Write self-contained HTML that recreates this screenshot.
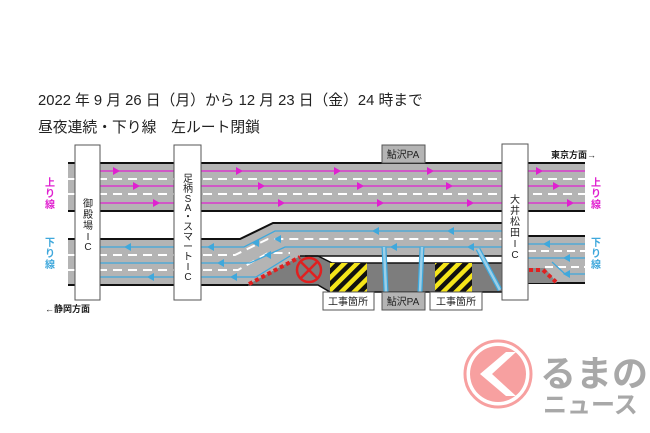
<!DOCTYPE html>
<html><head><meta charset="utf-8"><style>
html,body{margin:0;padding:0;background:#fff;width:650px;height:433px;overflow:hidden}
svg{display:block}
text{font-family:"Liberation Sans","Noto Sans CJK JP",sans-serif}
</style></head><body>
<svg width="650" height="433" viewBox="0 0 650 433" xmlns="http://www.w3.org/2000/svg">
<defs>
<pattern id="hz" patternUnits="userSpaceOnUse" width="9" height="9" patternTransform="rotate(45)">
<rect width="9" height="9" fill="#f5e51a"/><rect width="4.5" height="9" fill="#111"/>
</pattern>
</defs>
<text x="38" y="105" font-size="14.8" fill="#222">2022 年 9 月 26 日（月）から 12 月 23 日（金）24 時まで</text>
<text x="38" y="132" font-size="14.8" fill="#222">昼夜連続・下り線　左ルート閉鎖</text>

<rect x="68" y="163" width="517" height="48" fill="#b4b4b4"/>
<line x1="68" y1="163" x2="585" y2="163" stroke="#111" stroke-width="2"/>
<line x1="68" y1="211" x2="585" y2="211" stroke="#111" stroke-width="2"/>
<g stroke="#fff" stroke-width="2" stroke-dasharray="9,6">
<line x1="68" y1="179" x2="585" y2="179"/><line x1="68" y1="194" x2="585" y2="194"/>
</g>
<g stroke="#e020d0" stroke-width="1.3">
<line x1="100" y1="171" x2="585" y2="171"/><line x1="100" y1="186" x2="585" y2="186"/><line x1="100" y1="203" x2="585" y2="203"/>
</g>
<g fill="#e020d0">
<polygon points="113,167 120,171 113,175"/><polygon points="236,167 243,171 236,175"/><polygon points="334,167 341,171 334,175"/><polygon points="427,167 434,171 427,175"/><polygon points="536,167 543,171 536,175"/>
<polygon points="133,182 140,186 133,190"/><polygon points="258,182 265,186 258,190"/><polygon points="357,182 364,186 357,190"/><polygon points="446,182 453,186 446,190"/><polygon points="553,182 560,186 553,190"/>
<polygon points="153,199 160,203 153,207"/><polygon points="278,199 285,203 278,207"/><polygon points="377,199 384,203 377,207"/><polygon points="467,199 474,203 467,207"/><polygon points="567,199 574,203 567,207"/>
</g>

<polygon points="68,239 240,239 273,223 505,223 505,256 300,256 247,285 68,285" fill="#b4b4b4"/>
<polyline points="68,239 240,239 273,223 505,223" fill="none" stroke="#111" stroke-width="2"/>
<line x1="68" y1="285" x2="248" y2="285" stroke="#111" stroke-width="2"/>
<polygon points="247,285 300,256 318,256 332,263 505,263 505,292 330,292 318,285" fill="#7d7d7d"/>
<polyline points="300,256 318,256 332,263 505,263" fill="none" stroke="#111" stroke-width="1.5"/>
<polyline points="247,285 318,285 330,292 505,292" fill="none" stroke="#111" stroke-width="1.5"/>
<line x1="305" y1="256" x2="505" y2="256" stroke="#111" stroke-width="1.5"/>
<g stroke="#fff" stroke-width="2" stroke-dasharray="9,6" fill="none">
<polyline points="68,255 235,255 268,239 505,239"/>
<polyline points="68,270 238,270 268,253 290,253"/>
</g>
<g stroke="#3fa8dc" stroke-width="1.3" fill="none">
<polyline points="505,231 275,231 244,247 100,247"/>
<polyline points="505,247 285,247 250,263 100,263"/>
<polyline points="290,256 256,277 100,277"/>
</g>
<g fill="#3fa8dc">
<polygon points="124,247 131,243 131,251"/><polygon points="207,247 214,243 214,251"/>
<polygon points="217,263 224,259 224,267"/><polygon points="147,277 154,273 154,281"/><polygon points="230,277 237,273 237,281"/>
<polygon points="252,243 259,239 259,247"/><polygon points="264,255 271,251 271,259"/><polygon points="274,239 281,235 281,243"/>
<polygon points="372,231 379,227 379,235"/><polygon points="447,231 454,227 454,235"/>
<polygon points="390,247 397,243 397,251"/><polygon points="467,247 474,243 474,251"/>
</g>
<g stroke="#3fa8dc" stroke-width="5" fill="none"><line x1="384" y1="247" x2="386" y2="292"/><line x1="422" y1="247" x2="420" y2="292"/><line x1="478" y1="249" x2="500" y2="290"/></g>
<g stroke="#9ccfe8" stroke-width="2.5" fill="none"><line x1="384" y1="247" x2="386" y2="292"/><line x1="422" y1="247" x2="420" y2="292"/><line x1="478" y1="249" x2="500" y2="290"/></g>

<rect x="330" y="263" width="37" height="29" fill="url(#hz)"/>
<rect x="435" y="263" width="37" height="29" fill="url(#hz)"/>
<line x1="249" y1="284" x2="300" y2="257" stroke="#e02020" stroke-width="4" stroke-dasharray="4,3"/>
<circle cx="309" cy="270" r="12" fill="none" stroke="#e02020" stroke-width="2.5"/>
<line x1="301" y1="262" x2="317" y2="278" stroke="#e02020" stroke-width="2.5"/>
<line x1="317" y1="262" x2="301" y2="278" stroke="#e02020" stroke-width="2.5"/>

<rect x="528" y="236" width="57" height="47" fill="#b4b4b4"/>
<line x1="528" y1="236" x2="585" y2="236" stroke="#111" stroke-width="2"/>
<line x1="528" y1="283" x2="585" y2="283" stroke="#111" stroke-width="2"/>
<polygon points="528,268 545,268 557,283 528,283" fill="#888"/>
<g stroke="#fff" stroke-width="2" stroke-dasharray="8,5"><line x1="528" y1="251" x2="585" y2="251"/><line x1="545" y1="267" x2="585" y2="267"/></g>
<g stroke="#3fa8dc" stroke-width="1.3" fill="none"><line x1="528" y1="244" x2="585" y2="244"/><line x1="528" y1="258" x2="585" y2="258"/><polyline points="585,274 565,274 552,262"/></g>
<g fill="#3fa8dc"><polygon points="543,244 550,240 550,248"/><polygon points="563,258 570,254 570,262"/><polygon points="563,274 570,270 570,278"/></g>
<g stroke="#e02020" stroke-width="4" stroke-dasharray="4,3"><polyline points="529,270 543,270 556,282" fill="none"/></g>

<rect x="75" y="145" width="25" height="155" fill="#fff" stroke="#555" stroke-width="1"/>
<rect x="174" y="145" width="27" height="155" fill="#fff" stroke="#555" stroke-width="1"/>
<rect x="502" y="144" width="26" height="156" fill="#fff" stroke="#555" stroke-width="1"/>
<g font-size="10" fill="#222" text-anchor="middle">
<text x="88" y="207">御</text><text x="88" y="218">殿</text><text x="88" y="229">場</text><text x="88" y="240">I</text><text x="88" y="250">C</text>
<text x="188" y="182">足</text><text x="188" y="192">柄</text><text x="188" y="202">S</text><text x="188" y="211">A</text><text x="188" y="220">・</text><text x="188" y="230">ス</text><text x="188" y="240">マ</text><text x="188" y="250">ー</text><text x="188" y="260">ト</text><text x="188" y="270">I</text><text x="188" y="280">C</text>
<text x="515" y="203">大</text><text x="515" y="214">井</text><text x="515" y="225">松</text><text x="515" y="236">田</text><text x="515" y="247">I</text><text x="515" y="258">C</text>
</g>

<rect x="382" y="145" width="43" height="18" fill="#b4b4b4" stroke="#555"/>
<text x="403" y="158" font-size="10" fill="#222" text-anchor="middle">鮎沢PA</text>
<rect x="323" y="292" width="51" height="18" fill="#fff" stroke="#555"/>
<text x="348" y="305" font-size="10" fill="#222" text-anchor="middle">工事箇所</text>
<rect x="382" y="292" width="43" height="18" fill="#b4b4b4" stroke="#555"/>
<text x="403" y="305" font-size="10" fill="#222" text-anchor="middle">鮎沢PA</text>
<rect x="430" y="292" width="52" height="18" fill="#fff" stroke="#555"/>
<text x="456" y="305" font-size="10" fill="#222" text-anchor="middle">工事箇所</text>

<g font-size="10" font-weight="bold" text-anchor="middle">
<text x="50" y="186" fill="#e020d0">上</text><text x="50" y="197" fill="#e020d0">り</text><text x="50" y="208" fill="#e020d0">線</text>
<text x="50" y="246" fill="#3fa8dc">下</text><text x="50" y="257" fill="#3fa8dc">り</text><text x="50" y="268" fill="#3fa8dc">線</text>
<text x="596" y="186" fill="#e020d0">上</text><text x="596" y="197" fill="#e020d0">り</text><text x="596" y="208" fill="#e020d0">線</text>
<text x="596" y="246" fill="#3fa8dc">下</text><text x="596" y="257" fill="#3fa8dc">り</text><text x="596" y="268" fill="#3fa8dc">線</text>
</g>
<text x="551" y="158" font-size="9" font-weight="bold" fill="#222">東京方面→</text>
<text x="45" y="312" font-size="9" font-weight="bold" fill="#222">←静岡方面</text>

<circle cx="498" cy="374" r="33" fill="#fff" stroke="#f7a0a0" stroke-width="3"/>
<circle cx="498" cy="374" r="28" fill="#f7a0a0"/>
<polygon points="506,352 480,374 506,396 516,396 492,374 516,352" fill="#fff"/>
<text x="540" y="386" font-size="36" font-weight="bold" fill="#a8a8a8">るまの</text>
<text x="543" y="413" font-size="24" font-weight="bold" fill="#a8a8a8">ニュース</text>
</svg>
</body></html>
